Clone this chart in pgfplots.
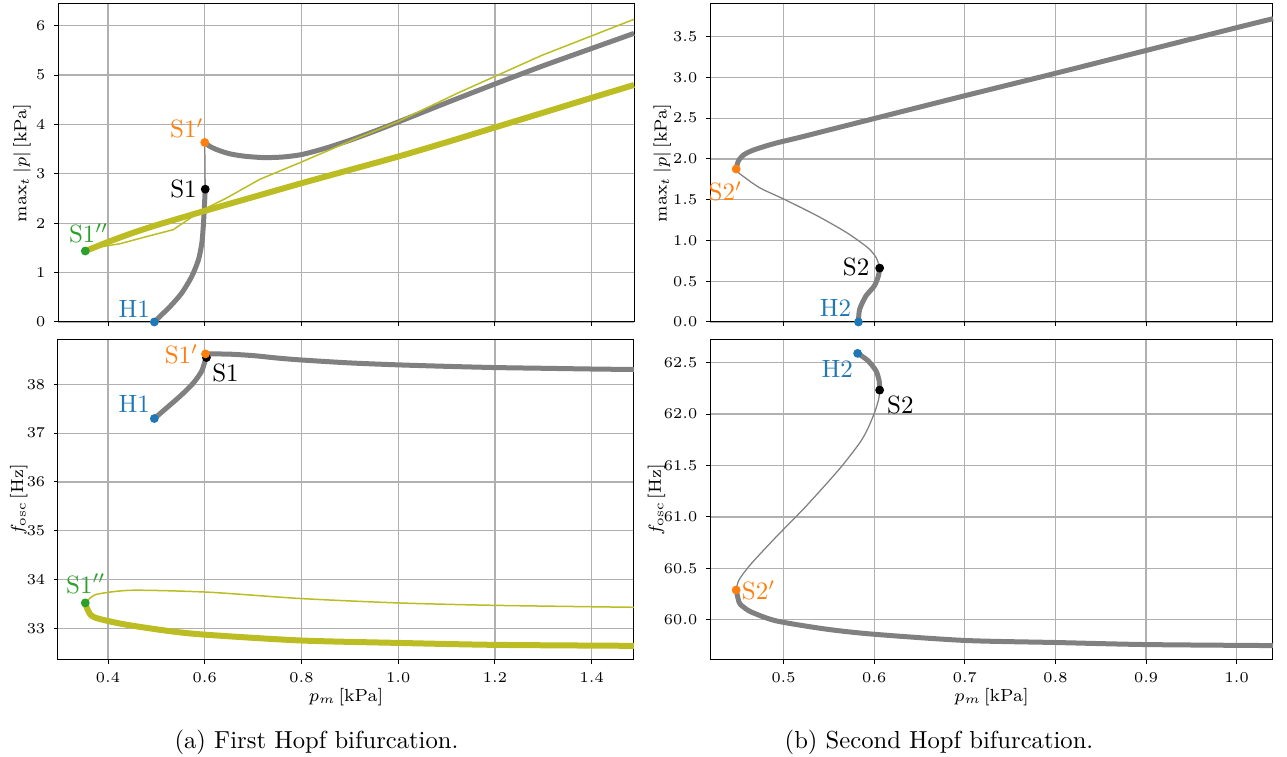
\documentclass[border=0pt]{standalone}
\usepackage{pgfplots}
\pgfplotsset{compat=1.18}
\definecolor{mplgray}{HTML}{808080}
\definecolor{tabolive}{HTML}{BCBD22}
\definecolor{taborange}{HTML}{FF7F0E}
\definecolor{tabblue}{HTML}{1F77B4}
\definecolor{tabgreen}{HTML}{2CA02C}
\definecolor{gridgray}{HTML}{B0B0B0}
\pgfplotsset{
  hopf/.style={
    scale only axis, clip=false, anchor=north west,
    axis line style={line width=0.4pt},
    grid=major, major grid style={line width=0.5pt, color=gridgray},
    tick align=outside, major tick length=1.6pt,
    tick style={line width=0.4pt, black},
    xtick pos=bottom, ytick pos=left,
    tick label style={font=\fontsize{5.6}{6}\selectfont},
    label style={font=\fontsize{7}{8}\selectfont},
  },
  onedec/.style={/pgf/number format/.cd, fixed, fixed zerofill, precision=1},
  stab/.style={color=mplgray, line width=2pt, line join=round, smooth, tension=0.45},
  unst/.style={color=mplgray, line width=0.5pt, line join=round, smooth, tension=0.45},
  stabo/.style={color=tabolive, line width=2.4pt, line join=round, smooth, tension=0.45},
  unsto/.style={color=tabolive, line width=0.6pt, line join=round},
  pt/.style={only marks, mark=*, mark size=1.55pt, color=#1},
}
\tikzset{lab/.style={text=#1, font=\fontsize{10}{12}\selectfont, inner sep=0pt}}
\begin{document}
\begin{tikzpicture}
\useasboundingbox (0,0) rectangle (514.8pt,302.8pt);

% (a) amplitude
\begin{axis}[hopf, at={(23.2pt,301.2pt)}, width=230.4pt, height=127.2pt,
  xmin=0.2966, xmax=1.4875, ymin=0, ymax=6.44,
  xtick={0.4,0.6,0.8,1.0,1.2,1.4}, xticklabels={}, ytick={0,1,2,3,4,5,6},
  ylabel={$\max_t|p|$\,[kPa]},
  ylabel style={at={(axis description cs:-0.0625,0.5)}, anchor=center}]
\addplot[stab] coordinates {(0.4958,0) (0.507,0.11) (0.528,0.31) (0.552,0.58) (0.573,0.92) (0.587,1.26) (0.594,1.60) (0.597,1.94) (0.599,2.28) (0.601,2.69)};
\addplot[unst, smooth=false] coordinates {(0.601,2.69) (0.600,3.636)};
\addplot[stab] coordinates {(0.600,3.636) (0.61,3.56) (0.625,3.49) (0.65,3.41) (0.68,3.36) (0.72,3.33) (0.76,3.34) (0.8,3.39) (0.85,3.52) (0.9,3.68) (0.95,3.86) (1.0,4.05) (1.1,4.44) (1.2,4.82) (1.3,5.19) (1.4,5.54) (1.4875,5.845)};
\addplot[stabo] coordinates {(0.353,1.437) (0.40,1.62) (0.45,1.80) (0.5,1.96) (0.6,2.25) (0.7,2.53) (0.8,2.81) (0.9,3.08) (1.0,3.35) (1.1,3.64) (1.2,3.94) (1.3,4.24) (1.4,4.54) (1.4875,4.80)};
\addplot[unsto] coordinates {(0.353,1.437) (0.3835,1.52) (0.425,1.585) (0.48,1.73) (0.535,1.87) (0.556,2.01) (0.576,2.14) (0.604,2.31) (0.645,2.51) (0.714,2.89) (0.8,3.24) (0.9,3.66) (1.0,4.06) (1.124,4.64) (1.297,5.40) (1.4875,6.13)};
\addplot[pt=tabblue] coordinates {(0.4958,0)};
\addplot[pt=black] coordinates {(0.601,2.69)};
\addplot[pt=taborange] coordinates {(0.600,3.636)};
\addplot[pt=tabgreen] coordinates {(0.353,1.437)};
\node[lab=tabblue] at (axis cs:0.454,0.26) {H1};
\node[lab=black] at (axis cs:0.556,2.70) {S1};
\node[lab=taborange] at (axis cs:0.563,3.92) {S1$'$};
\node[lab=tabgreen] at (axis cs:0.36,1.80) {S1$''$};
\end{axis}

% (a) frequency
\begin{axis}[hopf, at={(23.2pt,166.8pt)}, width=230.4pt, height=128pt,
  xmin=0.2966, xmax=1.4875, ymin=32.35, ymax=38.91,
  xtick={0.4,0.6,0.8,1.0,1.2,1.4}, ytick={33,34,35,36,37,38},
  xticklabel style={onedec},
  xlabel={$p_m$\,[kPa]}, ylabel={$f_\mathrm{osc}$\,[Hz]},
  xlabel style={at={(axis description cs:0.5,-0.1156)}, anchor=center},
  ylabel style={at={(axis description cs:-0.068,0.5)}, anchor=center}]
\addplot[stab] coordinates {(0.4958,37.30) (0.5238,37.54) (0.5515,37.78) (0.5758,38.02) (0.5931,38.26) (0.6,38.46) (0.6035,38.55)};
\addplot[stab] coordinates {(0.6015,38.625) (0.65,38.62) (0.7,38.59) (0.75,38.54) (0.8,38.50) (0.9,38.44) (1.0,38.40) (1.1,38.37) (1.2,38.345) (1.3,38.33) (1.4,38.315) (1.4875,38.305)};
\addplot[stabo] coordinates {(0.353,33.52) (0.357,33.40) (0.3655,33.26) (0.383,33.19) (0.434,33.08) (0.521,32.95) (0.599,32.87) (0.798,32.75) (0.999,32.70) (1.2,32.66) (1.4875,32.64)};
\addplot[unsto, smooth, tension=0.45] coordinates {(0.353,33.52) (0.3655,33.64) (0.3828,33.71) (0.4517,33.78) (0.607,33.74) (0.798,33.61) (0.999,33.52) (1.2,33.47) (1.4875,33.43)};
\addplot[pt=tabblue] coordinates {(0.4958,37.30)};
\addplot[pt=black] coordinates {(0.6035,38.55)};
\addplot[pt=taborange] coordinates {(0.6015,38.625)};
\addplot[pt=tabgreen] coordinates {(0.353,33.52)};
\node[lab=tabblue] at (axis cs:0.454,37.60) {H1};
\node[lab=black] at (axis cs:0.643,38.23) {S1};
\node[lab=taborange] at (axis cs:0.552,38.62) {S1$'$};
\node[lab=tabgreen] at (axis cs:0.354,33.91) {S1$''$};
\end{axis}

% (b) amplitude
\begin{axis}[hopf, at={(284pt,301.2pt)}, width=225.2pt, height=127.2pt,
  xmin=0.4188, xmax=1.040, ymin=0, ymax=3.90,
  xtick={0.5,0.6,0.7,0.8,0.9,1.0}, xticklabels={},
  ytick={0,0.5,1,1.5,2,2.5,3,3.5}, yticklabel style={onedec},
  ylabel={$\max_t|p|$\,[kPa]},
  ylabel style={at={(axis description cs:-0.085,0.5)}, anchor=center}]
\addplot[stab] coordinates {(0.5826,0) (0.5839,0.155) (0.5908,0.318) (0.600,0.44) (0.6046,0.563) (0.606,0.661)};
\addplot[unst] coordinates {(0.606,0.661) (0.6023,0.787) (0.593,0.91) (0.570,1.093) (0.538,1.297) (0.5014,1.501) (0.4739,1.644) (0.4555,1.786) (0.4486,1.847) (0.4477,1.876)};
\addplot[stab] coordinates {(0.4477,1.876) (0.449,1.94) (0.4509,1.99) (0.456,2.05) (0.4647,2.10) (0.478,2.15) (0.492,2.195) (0.52,2.27) (0.55,2.355) (0.6,2.495) (0.7,2.775) (0.8,3.05) (0.9,3.33) (1.0,3.61) (1.04,3.72)};
\addplot[pt=tabblue] coordinates {(0.5826,0)};
\addplot[pt=black] coordinates {(0.606,0.661)};
\addplot[pt=taborange] coordinates {(0.4477,1.876)};
\node[lab=tabblue] at (axis cs:0.5573,0.175) {H2};
\node[lab=black] at (axis cs:0.580,0.673) {S2};
\node[lab=taborange] at (axis cs:0.4358,1.60) {S2$'$};
\end{axis}

% (b) frequency
\begin{axis}[hopf, at={(284pt,166.8pt)}, width=225.2pt, height=128pt,
  xmin=0.4188, xmax=1.040, ymin=59.61, ymax=62.72,
  xtick={0.5,0.6,0.7,0.8,0.9,1.0}, xticklabel style={onedec},
  ytick={60,60.5,61,61.5,62,62.5}, yticklabel style={onedec},
  xlabel={$p_m$\,[kPa]}, ylabel={$f_\mathrm{osc}$\,[Hz]},
  xlabel style={at={(axis description cs:0.5,-0.1156)}, anchor=center},
  ylabel style={at={(axis description cs:-0.095,0.5)}, anchor=center}]
\addplot[stab] coordinates {(0.5817,62.59) (0.593,62.52) (0.602,62.42) (0.6055,62.32) (0.606,62.233)};
\addplot[unst] coordinates {(0.606,62.233) (0.605,62.15) (0.601,62.03) (0.593,61.86) (0.584,61.72) (0.561,61.46) (0.5243,61.10) (0.4922,60.81) (0.4647,60.55) (0.4509,60.39) (0.4477,60.29)};
\addplot[stab] coordinates {(0.4477,60.29) (0.4509,60.17) (0.455,60.13) (0.4647,60.075) (0.492,59.99) (0.547,59.91) (0.600,59.86) (0.700,59.80) (0.800,59.78) (0.900,59.76) (1.04,59.75)};
\addplot[pt=tabblue] coordinates {(0.5817,62.59)};
\addplot[pt=black] coordinates {(0.606,62.233)};
\addplot[pt=taborange] coordinates {(0.4477,60.29)};
\node[lab=tabblue] at (axis cs:0.5592,62.44) {H2};
\node[lab=black] at (axis cs:0.6289,62.09) {S2};
\node[lab=taborange] at (axis cs:0.4725,60.29) {S2$'$};
\end{axis}

\node[anchor=base, font=\fontsize{9.85}{12}\selectfont] at (126.6pt,3.2pt) {(a) First Hopf bifurcation.};
\node[anchor=base, font=\fontsize{9.85}{12}\selectfont] at (375.6pt,3.2pt) {(b) Second Hopf bifurcation.};
\end{tikzpicture}
\end{document}
